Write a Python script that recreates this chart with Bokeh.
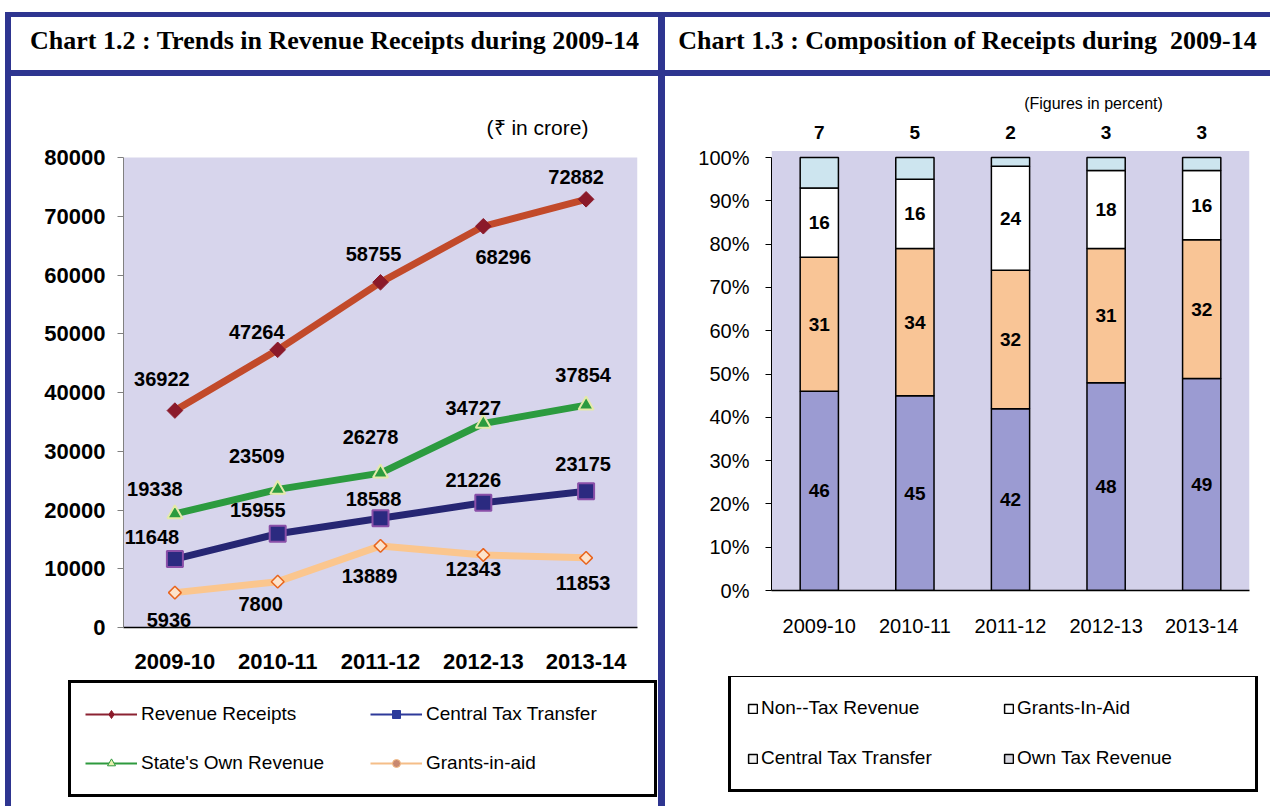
import numpy as np
from bokeh.plotting import figure
from bokeh.models import (FactorRange, Range1d, ColumnDataSource, Legend, LegendItem,
                          Label, Div, Spacer, PrintfTickFormatter, FixedTicker, BoxAnnotation)
from bokeh.layouts import row, column
from bokeh.embed import file_html
from bokeh.resources import INLINE
from bokeh.core.properties import value

# ---------------- data ----------------
years = ["2009-10", "2010-11", "2011-12", "2012-13", "2013-14"]
revenue_receipts = [36922, 47264, 58755, 68296, 72882]
central_tax_transfer = [11648, 15955, 18588, 21226, 23175]
states_own_revenue = [19338, 23509, 26278, 34727, 37854]
grants_in_aid = [5936, 7800, 13889, 12343, 11853]

own_tax_pct = [46, 45, 42, 48, 49]
central_tax_pct = [31, 34, 32, 31, 32]
grants_pct = [16, 16, 24, 18, 16]
non_tax_pct = [7, 5, 2, 3, 3]

left_title = "Chart 1.2 : Trends in Revenue Receipts during 2009-14"
right_title = "Chart 1.3 : Composition of Receipts during&nbsp; 2009-14"

# label offsets in screen pixels (styling)
rr_dx = [-13, -21, -7, 20, -10];  rr_dy = [-32, -18, -28, 31, -22]
so_dx = [-20, -21, -10, -10, -3]; so_dy = [-25, -33, -36, -15, -30]
ct_dx = [-23, -20, -7, -10, -3];  ct_dy = [-22, -24, -19, -23, -27]
ga_dx = [-6, -17, -11, -10, -3];  ga_dy = [27, 22, 30, 14, 25]

BLUE = "#2E3590"
FNAME = "Liberation Sans"
FONT = value(FNAME)
LAV = "#D7D5EC"

LW, RW = 647, 605
CH, LH = 600, 130

# ---------------- left chart ----------------
p1 = figure(x_range=FactorRange(*years), y_range=Range1d(0, 88000),
            width=LW, height=CH, output_backend="svg", toolbar_location=None,
            min_border_left=112, min_border_right=21, min_border_top=34, min_border_bottom=49)
p1.frame_align = False
p1.background_fill_color = "white"
p1.border_fill_color = "white"
p1.outline_line_color = None
p1.grid.visible = False
p1.add_layout(BoxAnnotation(bottom=0, top=80000, fill_color=LAV, fill_alpha=1,
                            line_color=None, level="underlay"))

p1.yaxis.ticker = FixedTicker(ticks=list(range(0, 80001, 10000)))
p1.yaxis.bounds = (0, 80000)
p1.yaxis.axis_line_color = "#808080"
p1.yaxis.major_tick_line_color = "#808080"
p1.yaxis.major_tick_out = 6
p1.yaxis.major_tick_in = 0
p1.yaxis.minor_tick_line_color = None
p1.yaxis.major_label_text_font = FNAME
p1.yaxis.major_label_text_font_style = "bold"
p1.yaxis.major_label_text_font_size = "22px"
p1.yaxis.major_label_text_color = "black"
p1.yaxis.major_label_standoff = 12

p1.xaxis.axis_line_color = "black"
p1.xaxis.axis_line_width = 1.5
p1.xaxis.major_tick_line_color = None
p1.xaxis.major_label_text_font = FNAME
p1.xaxis.major_label_text_font_style = "bold"
p1.xaxis.major_label_text_font_size = "22px"
p1.xaxis.major_label_text_color = "black"
p1.xaxis.major_label_standoff = 20

# legend-only figure for left chart (same series, drawn out of view)
pl1 = figure(x_range=FactorRange(*years, range_padding=1.0), y_range=Range1d(-900000, -800000),
             width=LW, height=LH, output_backend="svg", toolbar_location=None,
             x_axis_type=None, y_axis_type=None, min_border=0)
pl1.frame_align = False
pl1.outline_line_color = None
pl1.grid.visible = False
pl1.background_fill_color = "white"

series = [
    ("Revenue Receipts", revenue_receipts, "#C24A2A", "#8B2232", rr_dx, rr_dy),
    ("Central Tax Transfer", central_tax_transfer, "#262673", "#2E3A9A", ct_dx, ct_dy),
    ("State's Own Revenue", states_own_revenue, "#2C9B3F", "#2E9A3E", so_dx, so_dy),
    ("Grants-in-aid", grants_in_aid, "#FBC68E", "#F5BE88", ga_dx, ga_dy),
]
marker_style = {
    "Revenue Receipts": dict(marker="square", angle=np.pi / 4, size=11,
                             fill_color="#8B1A2A", line_color="#8B1A2A"),
    "Central Tax Transfer": dict(marker="square", size=16, fill_color="#2B2A80",
                                 line_color="#8A4FA8", line_width=2),
    "State's Own Revenue": dict(marker="triangle", size=15, fill_color="#2C9B3F",
                                line_color="#E4EAA8", line_width=2),
    "Grants-in-aid": dict(marker="square", angle=np.pi / 4, size=9, fill_color="#FCE3CC",
                          line_color="#E8651E", line_width=1.5),
}
legend_style = {
    "Revenue Receipts": dict(marker="diamond", size=12,
                             fill_color="#8B1A2A", line_color="#8B1A2A"),
    "Central Tax Transfer": dict(marker="square", size=9, fill_color="#2B3A9A",
                                 line_color="#2B3A9A"),
    "State's Own Revenue": dict(marker="triangle", size=9, fill_color="#E8F0B0",
                                line_color="#2E9A3E", line_width=1),
    "Grants-in-aid": dict(marker="circle", size=8, fill_color="#C88870",
                          line_color="#F5BE88", line_width=1),
}

sources = {}
leg_items1 = []
for name, vals, col, thin, dx, dy in series:
    src = ColumnDataSource(dict(x=years, y=vals, t=[str(v) for v in vals], dx=dx, dy=dy))
    sources[name] = src
    p1.line("x", "y", source=src, line_color=col, line_width=7)
    l_r = pl1.line("x", "y", source=src, line_color=thin, line_width=2)
    m_r = pl1.scatter("x", "y", source=src, **legend_style[name])
    leg_items1.append(LegendItem(label=name, renderers=[l_r, m_r]))

for name, vals, col, thin, dx, dy in series:
    p1.scatter("x", "y", source=sources[name], **marker_style[name])

for name, vals, col, thin, dx, dy in series:
    p1.text("x", "y", text="t", x_offset="dx", y_offset="dy", source=sources[name],
            text_align="center", text_baseline="middle", text_font=FONT,
            text_font_style="bold", text_font_size="20px", text_color="black")

p1.add_layout(Label(x=414, y=500, x_units="screen", y_units="screen", text="(₹ in crore)",
                    text_align="center", text_baseline="middle", text_font=FNAME,
                    text_font_size="21px", text_color="black"))

leg1 = Legend(items=leg_items1, location=(57, 9), ncols=2, orientation="horizontal",
              glyph_width=52, glyph_height=20, label_standoff=4, label_height=34,
              label_width=214, spacing=15, padding=14, margin=0,
              border_line_color="black", border_line_width=3, border_line_alpha=1,
              background_fill_color="white", background_fill_alpha=1,
              label_text_font=FNAME, label_text_font_size="19px", label_text_color="black")
pl1.add_layout(leg1)

# ---------------- right chart ----------------
p2 = figure(x_range=FactorRange(*years), y_range=Range1d(0, 115.5),
            width=RW, height=CH, output_backend="svg", toolbar_location=None,
            min_border_left=106, min_border_right=21, min_border_top=14, min_border_bottom=86)
p2.frame_align = False
p2.background_fill_color = "white"
p2.border_fill_color = "white"
p2.outline_line_color = None
p2.grid.visible = False
p2.add_layout(BoxAnnotation(bottom=0, top=101.5, fill_color="#D3D1EA", fill_alpha=1,
                            line_color=None, level="underlay"))

p2.yaxis.ticker = FixedTicker(ticks=list(range(0, 101, 10)))
p2.yaxis.bounds = (0, 100)
p2.yaxis.formatter = PrintfTickFormatter(format="%d%%")
p2.yaxis.axis_line_color = "black"
p2.yaxis.major_tick_line_color = "black"
p2.yaxis.major_tick_out = 6
p2.yaxis.major_tick_in = 0
p2.yaxis.minor_tick_line_color = None
p2.yaxis.major_label_text_font = FNAME
p2.yaxis.major_label_text_font_size = "20px"
p2.yaxis.major_label_text_color = "black"
p2.yaxis.major_label_standoff = 16

p2.xaxis.axis_line_color = "black"
p2.xaxis.axis_line_width = 1.5
p2.xaxis.major_tick_line_color = None
p2.xaxis.major_label_text_font = FNAME
p2.xaxis.major_label_text_font_size = "20px"
p2.xaxis.major_label_text_color = "black"
p2.xaxis.major_label_standoff = 22

stack_src = ColumnDataSource(dict(x=years, own=own_tax_pct, central=central_tax_pct,
                                  grants=grants_pct, nontax=non_tax_pct))
stack_cols = ["own", "central", "grants", "nontax"]
bar_cols = ["#9B9BD2", "#F9C596", "#FFFFFF", "#CDE5EF"]
p2.vbar_stack(stack_cols, x="x", width=0.4, source=stack_src, fill_color=bar_cols,
              line_color="black", line_width=1.5)

own = np.array(own_tax_pct, dtype=float)
cen = np.array(central_tax_pct, dtype=float)
gra = np.array(grants_pct, dtype=float)
nt = np.array(non_tax_pct, dtype=float)
lbl_x, lbl_y, lbl_t, lbl_off = [], [], [], []
for i, yr in enumerate(years):
    bases = [0, own[i], own[i] + cen[i]]
    for b, v in zip(bases, [own[i], cen[i], gra[i]]):
        lbl_x.append(yr); lbl_y.append(b + v / 2); lbl_t.append(str(int(v))); lbl_off.append(0)
    lbl_x.append(yr); lbl_y.append(100); lbl_t.append(str(int(nt[i]))); lbl_off.append(-25)
p2.text(x="x", y="y", text="t", y_offset="o",
        source=ColumnDataSource(dict(x=lbl_x, y=lbl_y, t=lbl_t, o=lbl_off)),
        text_align="center", text_baseline="middle", text_font=FONT,
        text_font_style="bold", text_font_size="19px", text_color="black")

p2.add_layout(Label(x=322, y=487, x_units="screen", y_units="screen", text="(Figures in percent)",
                    text_align="center", text_baseline="middle", text_font=FNAME,
                    text_font_size="16px", text_color="black"))

pl2 = figure(x_range=FactorRange(*years, range_padding=1.0), y_range=Range1d(-1000, -900),
             width=RW, height=LH, output_backend="svg", toolbar_location=None,
             x_axis_type=None, y_axis_type=None, min_border=0)
pl2.frame_align = False
pl2.outline_line_color = None
pl2.grid.visible = False
pl2.background_fill_color = "white"
swatch_cols = ["#D8D8E0", "#F2F2F2", "#FFFFFF", "#FFFFFF"]
lbars = pl2.vbar_stack(stack_cols, x="x", width=0.001, source=stack_src, fill_color=swatch_cols,
                       line_color="black", line_width=1.5)

leg2 = Legend(items=[LegendItem(label="Non--Tax Revenue", renderers=[lbars[3]]),
                     LegendItem(label="Grants-In-Aid", renderers=[lbars[2]]),
                     LegendItem(label="Central Tax Transfer", renderers=[lbars[1]]),
                     LegendItem(label="Own Tax Revenue", renderers=[lbars[0]])],
              location=(63, 14), ncols=2, orientation="horizontal",
              glyph_width=11, glyph_height=11, label_standoff=3, label_height=30,
              label_width=222, spacing=20, padding=16, margin=0,
              border_line_color="black", border_line_width=3, border_line_alpha=1,
              background_fill_color="white", background_fill_alpha=1,
              label_text_font=FNAME, label_text_font_size="19px", label_text_color="black")
pl2.add_layout(leg2)

# ---------------- frame / titles ----------------
def bar_div(w, h):
    return Div(text="", width=w, height=h, margin=0, styles={"background-color": BLUE})

def title_div(txt, w):
    html = ('<div style="width:%dpx;height:53px;box-sizing:border-box;padding-top:5px;'
            'text-align:center;font-family:\'Liberation Serif\';font-weight:bold;'
            'font-size:26px;color:black;background:white;white-space:nowrap;">%s</div>' % (w, txt))
    return Div(text=html, width=w, height=53, margin=0, styles={"background-color": "white"})

TOT_H = 5 + 53 + 6 + CH + LH
left_col = column(bar_div(LW, 5), title_div(left_title, LW), bar_div(LW, 6), p1, pl1, spacing=0)
right_col = column(bar_div(RW, 5), title_div(right_title, RW), bar_div(RW, 6), p2, pl2, spacing=0)
main = row(Spacer(width=5, height=TOT_H, margin=0), bar_div(6, TOT_H), left_col,
           bar_div(7, TOT_H), right_col, spacing=0)
page = column(Spacer(height=12, width=10, margin=0), main, spacing=0)

open("out.html", "w").write(file_html(page, INLINE))
